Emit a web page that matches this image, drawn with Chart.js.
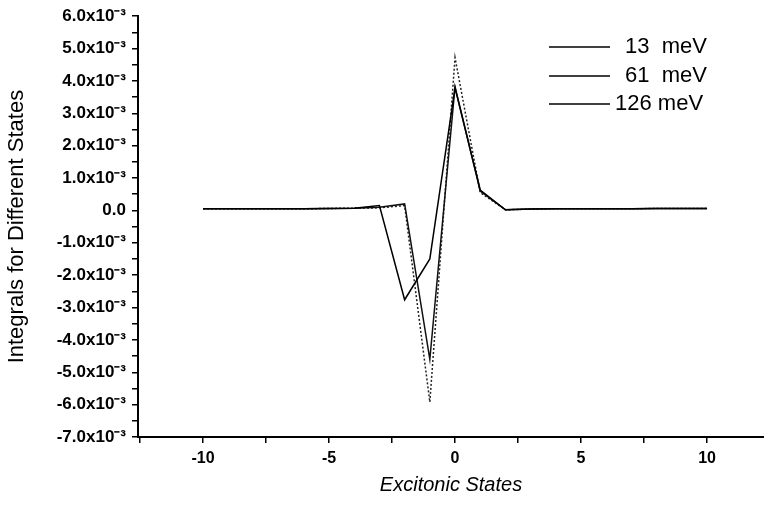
<!DOCTYPE html>
<html>
<head>
<meta charset="utf-8">
<script src="https://cdn.jsdelivr.net/npm/chart.js@4/dist/chart.umd.min.js"></script>
<style>
html,body{margin:0;padding:0;background:#fff;}
#wrap{position:relative;width:764px;height:510px;}
</style>
</head>
<body>
<div id="wrap"><canvas id="c" width="764" height="510"></canvas></div>
<script>
const states = [-10,-9,-8,-7,-6,-5,-4,-3,-2,-1,0,1,2,3,4,5,6,7,8,9,10];
const seriesNames = ['13  meV','61  meV','126 meV'];
const e13  = [0.05e-3,0.05e-3,0.05e-3,0.05e-3,0.05e-3,0.06e-3,0.07e-3,0.15e-3,-2.76e-3,-1.50e-3,3.79e-3,0.63e-3,0.02e-3,0.04e-3,0.05e-3,0.05e-3,0.05e-3,0.05e-3,0.06e-3,0.06e-3,0.06e-3];
const e61  = [0.05e-3,0.05e-3,0.05e-3,0.05e-3,0.05e-3,0.06e-3,0.07e-3,0.10e-3,0.20e-3,-4.60e-3,3.82e-3,0.60e-3,0.02e-3,0.04e-3,0.05e-3,0.05e-3,0.05e-3,0.05e-3,0.06e-3,0.06e-3,0.06e-3];
const e126 = [0.05e-3,0.05e-3,0.05e-3,0.05e-3,0.05e-3,0.06e-3,0.07e-3,0.08e-3,0.15e-3,-5.92e-3,4.72e-3,0.55e-3,0.02e-3,0.04e-3,0.05e-3,0.05e-3,0.05e-3,0.05e-3,0.06e-3,0.06e-3,0.06e-3];
const xLabels = [-10,-5,0,5,10];

const FONT = "'Liberation Sans', Arial, sans-serif";
const mk = (arr) => states.map((x,i)=>({x:x,y:arr[i]}));

const legendPlugin = {
  id:'customLegend',
  afterDraw(chart){
    const ctx = chart.ctx;
    const rows = [47, 76, 104];
    ctx.save();
    ctx.strokeStyle = '#000';
    ctx.fillStyle = '#000';
    ctx.lineWidth = 1.5;
    ctx.font = "22px " + FONT;
    ctx.textBaseline = 'middle';
    seriesNames.forEach((n,i)=>{
      ctx.beginPath();
      ctx.moveTo(549, rows[i]);
      ctx.lineTo(610, rows[i]);
      ctx.stroke();
      ctx.fillText(n, i===2 ? 615 : 625, rows[i]);
    });
    ctx.restore();
  }
};

new Chart(document.getElementById('c'), {
  type:'line',
  data:{
    datasets:[
      {label:seriesNames[0], data:mk(e13), borderColor:'#000', borderWidth:1.5, pointRadius:0, tension:0, fill:false},
      {label:seriesNames[1], data:mk(e61), borderColor:'#111', borderWidth:1.5, pointRadius:0, tension:0, fill:false},
      {label:seriesNames[2], data:mk(e126), borderColor:'#222', borderWidth:1.5, borderDash:[2,2], pointRadius:0, tension:0, fill:false}
    ]
  },
  options:{
    responsive:false,
    animation:false,
    layout:{autoPadding:false, padding:{top:11,right:0,left:0,bottom:0}},
    plugins:{legend:{display:false}, tooltip:{enabled:false}},
    scales:{
      x:{
        type:'linear',
        min:-12.58, max:12.26,
        afterFit(s){ s.height = 73; },
        border:{display:true,color:'#000',width:2},
        grid:{drawOnChartArea:false, drawTicks:true, tickLength:6, color:'#000', lineWidth:1.5},
        ticks:{
          stepSize:2.5, includeBounds:false, autoSkip:false, maxRotation:0,
          color:'#000', font:{family:FONT, size:16, weight:'bold'}, padding:6,
          callback:(v)=> xLabels.includes(v) ? String(v) : ''
        },
        title:{display:true, text:'Excitonic States', color:'#000', font:{family:FONT, size:20, style:'italic'}, padding:{top:4,bottom:13}}
      },
      y:{
        type:'linear',
        min:-7e-3, max:6e-3,
        afterFit(s){ s.width = 138; },
        border:{display:true,color:'#000',width:2},
        grid:{drawOnChartArea:false, drawTicks:true, tickLength:6, color:'#000', lineWidth:1.5},
        ticks:{
          stepSize:0.5e-3, autoSkip:false, color:'#000', font:{family:FONT, size:17, weight:'bold'}, padding:6,
          callback:(v)=>{
            const h = Math.round(v*2000);
            if (h % 2 !== 0) return '';
            const m = h/2;
            if (m === 0) return '0.0';
            return m.toFixed(1) + 'x10⁻³';
          }
        },
        title:{display:true, text:'Integrals for Different States', color:'#000', font:{family:FONT, size:22}, padding:{top:4,bottom:9}}
      }
    }
  },
  plugins:[legendPlugin]
});
</script>
</body>
</html>
